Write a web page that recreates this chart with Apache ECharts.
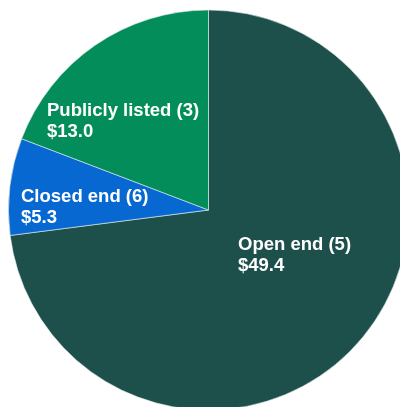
<!DOCTYPE html>
<html>
<head>
<meta charset="utf-8">
<style>
  html, body { margin: 0; padding: 0; background: #ffffff; }
  #chart { width: 400px; height: 407px; }
</style>
<script src="https://cdn.jsdelivr.net/npm/echarts@6/dist/echarts.min.js"></script>
</head>
<body>
<div id="chart"></div>
<script>
// Fund categories, number of funds, and assets ($bn)
const categories = ['Open end', 'Closed end', 'Publicly listed'];
const fundCounts = [5, 6, 3];
const assets = [49.4, 5.3, 13.0];
const sliceColors = ['#1d4f4b', '#0768d2', '#028d5a'];

// Top-left anchor of each two-line label
const labelAnchors = [
  [238, 234],
  [21, 186],
  [47, 100]
];

const chart = echarts.init(document.getElementById('chart'), null, { renderer: 'canvas' });

chart.setOption({
  animation: false,
  backgroundColor: '#ffffff',
  series: [{
    type: 'pie',
    center: [208.5, 210],
    radius: 200,
    startAngle: 90,
    clockwise: true,
    avoidLabelOverlap: false,
    itemStyle: { borderColor: '#e8f0ee', borderWidth: 0.6 },
    label: {
      show: true,
      position: 'inside',
      color: '#ffffff',
      fontFamily: 'Liberation Sans, Arial, sans-serif',
      fontWeight: 'bold',
      fontSize: 18.5,
      lineHeight: 21.5,
      align: 'left',
      formatter: function (p) {
        return p.name + ' (' + fundCounts[p.dataIndex] + ')\n$' + p.value.toFixed(1);
      }
    },
    labelLine: { show: false },
    labelLayout: function (params) {
      const a = labelAnchors[params.dataIndex];
      return { x: a[0], y: a[1], align: 'left', verticalAlign: 'top' };
    },
    emphasis: { disabled: true },
    data: categories.map(function (c, i) {
      return { name: c, value: assets[i], itemStyle: { color: sliceColors[i] } };
    })
  }]
});
</script>
</body>
</html>
